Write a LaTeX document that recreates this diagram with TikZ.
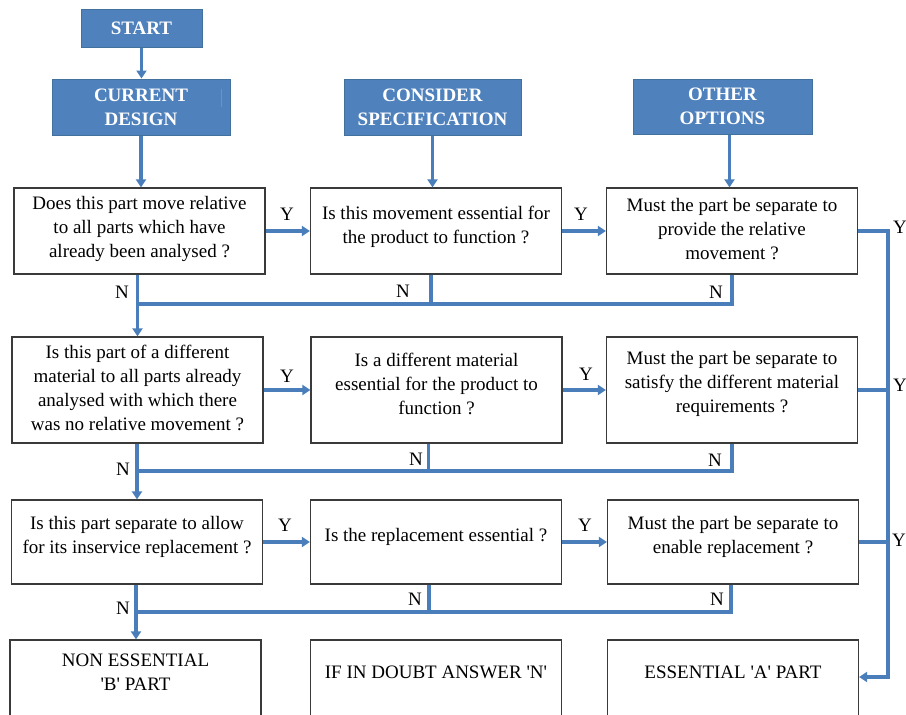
\documentclass[tikz,border=0pt]{standalone}
\usepackage{fontspec}
\setmainfont{LiberationSerif}[Extension=.ttf, UprightFont=*-Regular, BoldFont=*-Bold, ItalicFont=*-Italic, BoldItalicFont=*-BoldItalic]
\usetikzlibrary{arrows.meta}
\definecolor{hdrfill}{HTML}{4F81BD}
\definecolor{hdrline}{HTML}{41719C}
\definecolor{connblue}{HTML}{4A7EBB}
\definecolor{boxline}{HTML}{3A3A3A}
\definecolor{cursorcol}{HTML}{C08040}
\begin{document}
\begin{tikzpicture}[x=1pt,y=-1pt,
  hdr/.style={draw=hdrline, line width=1pt, fill=hdrfill, text=white,
    font=\fontsize{19}{24}\selectfont\bfseries, align=center, inner sep=0pt},
  qbox/.style={draw=boxline, line width=1.2pt, inner sep=0pt, fill=white,
    minimum width=251pt},
  qtext/.style={font=\fontsize{19}{24}\selectfont, align=center, inner sep=0pt},
  lab/.style={font=\fontsize{19}{24}\selectfont, inner sep=0pt},
  conn/.style={draw=connblue, line width=3.2pt},
  arr/.style={conn, -{Triangle[length=8pt,width=10pt]}}]
\useasboundingbox (0,0) rectangle (906,715);
\clip (0,0) rectangle (906,715);
\fill[white] (0,0) rectangle (906,715);

% headers
\node[hdr, minimum width=121pt, minimum height=38pt] (start) at (141.5,28) {START};
\node[hdr, minimum width=178pt, minimum height=56pt] (cur) at (141,107) {CURRENT\\DESIGN};
\node[hdr, minimum width=177pt, minimum height=56pt] (cons) at (432.5,107) {CONSIDER\\SPECIFICATION};
\node[hdr, minimum width=179pt, minimum height=55pt] (oth) at (722.5,106.5) {OTHER\\OPTIONS};
\draw[cursorcol, line width=0.6pt] (221,89) -- (221,107);

% question boxes
\node[qbox, minimum height=86pt] (b11) at (139.5,231) {};
\node[qbox, minimum height=86pt] (b12) at (436,231) {};
\node[qbox, minimum height=86pt] (b13) at (732,231) {};
\node[qbox, minimum height=106pt] (b21) at (137.5,390) {};
\node[qbox, minimum height=106pt] (b22) at (436.5,390) {};
\node[qbox, minimum height=106pt] (b23) at (732,390) {};
\node[qbox, minimum height=84pt] (b31) at (137,542) {};
\node[qbox, minimum height=84pt] (b32) at (436,542) {};
\node[qbox, minimum height=84pt] (b33) at (733,542) {};
\node[qbox, minimum height=100pt] (b41) at (135.5,690) {};
\node[qbox, minimum height=100pt] (b42) at (436,690) {};
\node[qbox, minimum height=100pt] (b43) at (733,690) {};

% texts
\node[qtext] (t11) at (139.5,229) {Does this part move relative\\to all parts which have\\already been analysed ?};
\node[qtext] (t12) at (436,227) {Is this movement essential for\\the product to function ?};
\node[qtext] (t13) at (732,229) {Must the part be separate to\\provide the relative\\movement ?};
\node[qtext] (t21) at (137.5,388) {Is this part of a different\\material to all parts already\\analysed with which there\\was no relative movement ?};
\node[qtext] (t22) at (436.5,384) {Is a different material\\essential for the product to\\function ?};
\node[qtext] (t23) at (732,384) {Must the part be separate to\\satisfy the different material\\requirements ?};
\node[qtext] (t31) at (137,537) {Is this part separate to allow\\for its inservice replacement ?};
\node[qtext] (t32) at (436,537) {Is the replacement essential ?};
\node[qtext] (t33) at (733,537) {Must the part be separate to\\enable replacement ?};
\node[qtext] (t41) at (135.5,672) {NON ESSENTIAL\\\textquotesingle B\textquotesingle{} PART};
\node[qtext] (t42) at (436,672) {IF IN DOUBT ANSWER \textquotesingle N\textquotesingle};
\node[qtext] (t43) at (733,672) {ESSENTIAL \textquotesingle A\textquotesingle{} PART};

% header arrows
\draw[arr] (start.south) -- (start.south |- cur.north);
\draw[arr] (cur.south) -- (cur.south |- b11.north);
\draw[arr] (cons.south) -- (cons.south |- b12.north);
\draw[arr] ([xshift=7pt]oth.south) -- ([xshift=7pt]oth.south |- b13.north);

% Y arrows
\draw[arr] (b11.east) -- (b12.west);
\draw[arr] (b12.east) -- (b13.west);
\draw[arr] (b21.east) -- (b22.west);
\draw[arr] (b22.east) -- (b23.west);
\draw[arr] (b31.east) -- (b32.west);
\draw[arr] (b32.east) -- (b33.west);

% N merges
\coordinate (m1) at (137.5,304);
\coordinate (m2) at (137,471);
\coordinate (m3) at (136,612);
\draw[conn] ([xshift=-5pt]b12.south) -- ([xshift=-5pt]b12.south |- m1);
\draw[conn] (b13.south) -- (b13.south |- m1) -- (m1);
\draw[arr] (b21.north |- b11.south) -- (b21.north);
\draw[conn] ([xshift=-8pt]b22.south) -- ([xshift=-8pt]b22.south |- m2);
\draw[conn] (b23.south) -- (b23.south |- m2) -- (m2);
\draw[arr] (b31.north |- b21.south) -- (b31.north);
\draw[conn] ([xshift=-7pt]b32.south) -- ([xshift=-7pt]b32.south |- m3);
\draw[conn] ([xshift=-2pt]b33.south) -- ([xshift=-2pt]b33.south |- m3) -- (m3);
\draw[arr] (m3 |- b31.south) -- (m3 |- b41.north);

% right trunk
\coordinate (ra) at (888,677);
\draw[arr] (b13.east) -| (ra) -- (ra -| b43.east);
\draw[conn] (b23.east) -- (b23.east -| ra);
\draw[conn] (b33.east) -- (b33.east -| ra);

% labels
\node[lab] (y1) at (287,214) {Y};
\node[lab] (y2) at (581,214) {Y};
\node[lab] (y3) at (287,376) {Y};
\node[lab] (y4) at (586,374) {Y};
\node[lab] (y5) at (285,525) {Y};
\node[lab] (y6) at (585,525) {Y};
\node[lab, anchor=west] (y7) at (893,227) {Y};
\node[lab, anchor=west] (y8) at (893,385) {Y};
\node[lab, anchor=west] (y9) at (892,540) {Y};
\node[lab] (n1) at (122,292) {N};
\node[lab] (n2) at (403,291) {N};
\node[lab] (n3) at (716,292) {N};
\node[lab] (n4) at (123,469) {N};
\node[lab] (n5) at (416,459) {N};
\node[lab] (n6) at (715,460) {N};
\node[lab] (n7) at (123,608) {N};
\node[lab] (n8) at (415,599) {N};
\node[lab] (n9) at (717,599) {N};
\end{tikzpicture}
\end{document}
